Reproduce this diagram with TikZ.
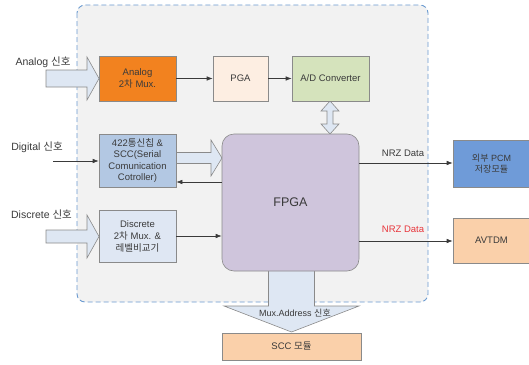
\documentclass[tikz,border=0pt]{standalone}
\usepackage{fontspec}
\setmainfont{Liberation Sans}
\newfontfamily\kr{Noto Sans CJK KR}
\usetikzlibrary{arrows.meta}
\definecolor{txt}{HTML}{3A3A3A}
\definecolor{boxline}{HTML}{8A8A8A}
\definecolor{contfill}{HTML}{F2F2F2}
\definecolor{contline}{HTML}{6A9AD0}
\definecolor{muxor}{HTML}{F2821F}
\definecolor{pgafill}{HTML}{FDEEE2}
\definecolor{adcfill}{HTML}{D5E3BC}
\definecolor{digfill}{HTML}{B3C8E3}
\definecolor{discfill}{HTML}{DFE7F3}
\definecolor{fpgafill}{HTML}{CFC5DC}
\definecolor{pcmfill}{HTML}{6F9BD8}
\definecolor{peach}{HTML}{FAD0AA}
\definecolor{hollowfill}{HTML}{DEE7F3}
\definecolor{nrzred}{HTML}{E8343A}
\begin{document}
\begin{tikzpicture}[x=1pt,y=-1pt,
  box/.style={draw=boxline, line width=0.6pt, minimum width=77pt, minimum height=45pt,
    inner sep=1pt, align=center, font=\fontsize{9.5}{11.5}\selectfont, text=txt},
  conn/.style={-{Latex[length=6pt,width=4.5pt]}, line width=0.6pt, draw=txt},
  hollow/.style={draw=boxline, fill=hollowfill, line width=0.6pt, line join=miter},
  lbl/.style={font=\fontsize{10.5}{12}\selectfont, text=txt, inner sep=0pt}]
\useasboundingbox (0,0) rectangle (529,364);
\clip (0,0) rectangle (529,364);

% container
\draw[draw=contline, fill=contfill, line width=0.9pt, dash pattern=on 5pt off 3pt,
  rounded corners=8pt] (77,5) rectangle (428,302);

% hollow arrows
\draw[hollow] (46,70) -- (87,70) -- (87,57) -- (99,78.5) -- (87,100) -- (87,87) -- (46,87) -- cycle;
\draw[hollow] (46,230) -- (87,230) -- (87,215) -- (99,236.5) -- (87,258) -- (87,243) -- (46,243) -- cycle;
\draw[hollow] (176,152.5) -- (211,152.5) -- (211,140) -- (222,158) -- (211,176) -- (211,163.5) -- (176,163.5) -- cycle;
\draw[hollow] (330,101) -- (339,111) -- (333,111) -- (333,124) -- (339,124) -- (330,134)
  -- (321,124) -- (327,124) -- (327,111) -- (321,111) -- cycle;
\draw[hollow] (268.5,270) -- (314.5,270) -- (314.5,306) -- (359,306) -- (291.5,332)
  -- (224,306) -- (268.5,306) -- cycle;

% nodes
\node[box, fill=muxor] (mux) at (137.5,78.5) {Analog\\2{\kr 차} Mux.};
\node[box, fill=pgafill, minimum width=55pt] (pga) at (240.5,78.5) {PGA};
\node[box, fill=adcfill] (adc) at (330.5,78.5) {A/D Converter};
\node[box, fill=fpgafill, minimum width=137pt, minimum height=137pt, rounded corners=12pt,
  font=\fontsize{12.5}{14}\selectfont] (fpga) at (290.5,202.5) {FPGA};
\node[box, fill=digfill, minimum height=53pt] (dig) at (137.5,160.5)
  {422{\kr 통신칩} \&\\SCC(Serial\\Comunication\\Cotroller)};
\node[box, fill=discfill, minimum height=52pt, font=\fontsize{9.5}{12}\selectfont] (disc) at (137.5,236)
  {Discrete\\2{\kr 차} Mux. \&\\{\kr 레벨비교기}};
\node[box, fill=pcmfill, minimum height=47pt, font=\fontsize{9}{11.5}\selectfont] (pcm) at (491.5,163.5)
  {{\kr 외부} PCM\\{\kr 저장모듈}};
\node[box, fill=peach] (avt) at (491.5,240.5) {AVTDM};
\node[box, fill=peach, minimum width=139pt, minimum height=27pt] (scc) at (291.5,346.5) {SCC {\kr 모듈}};

% labels
\node[lbl] (la) at (43,62) {Analog {\kr 신호}};
\node[lbl] (ld) at (37,147) {Digital {\kr 신호}};
\node[lbl] (lc) at (41.5,214) {Discrete {\kr 신호}};
\node[lbl, font=\fontsize{9.5}{11}\selectfont] (n1) at (403,153) {NRZ Data};
\node[lbl, font=\fontsize{9.5}{11}\selectfont, text=nrzred] (n2) at (403,229) {NRZ Data};
\node[lbl, font=\fontsize{9}{10}\selectfont] (ma) at (295,313) {Mux.Address {\kr 신호}};

% connectors
\path (53,161) coordinate (dstart);
\path (0,182) coordinate (yback);
\path (0,236) coordinate (ydisc);
\path (0,163) coordinate (ynrz1);
\path (0,241) coordinate (ynrz2);
\draw[conn] (mux) -- (pga);
\draw[conn] (pga) -- (adc);
\draw[conn] (dstart) -- (dig.west |- dstart);
\draw[conn] (fpga.west |- yback) -- (dig.east |- yback);
\draw[conn] (disc.east |- ydisc) -- (fpga.west |- ydisc);
\draw[conn] (fpga.east |- ynrz1) -- (pcm.west |- ynrz1);
\draw[conn] (fpga.east |- ynrz2) -- (avt.west |- ynrz2);
\end{tikzpicture}
\end{document}
